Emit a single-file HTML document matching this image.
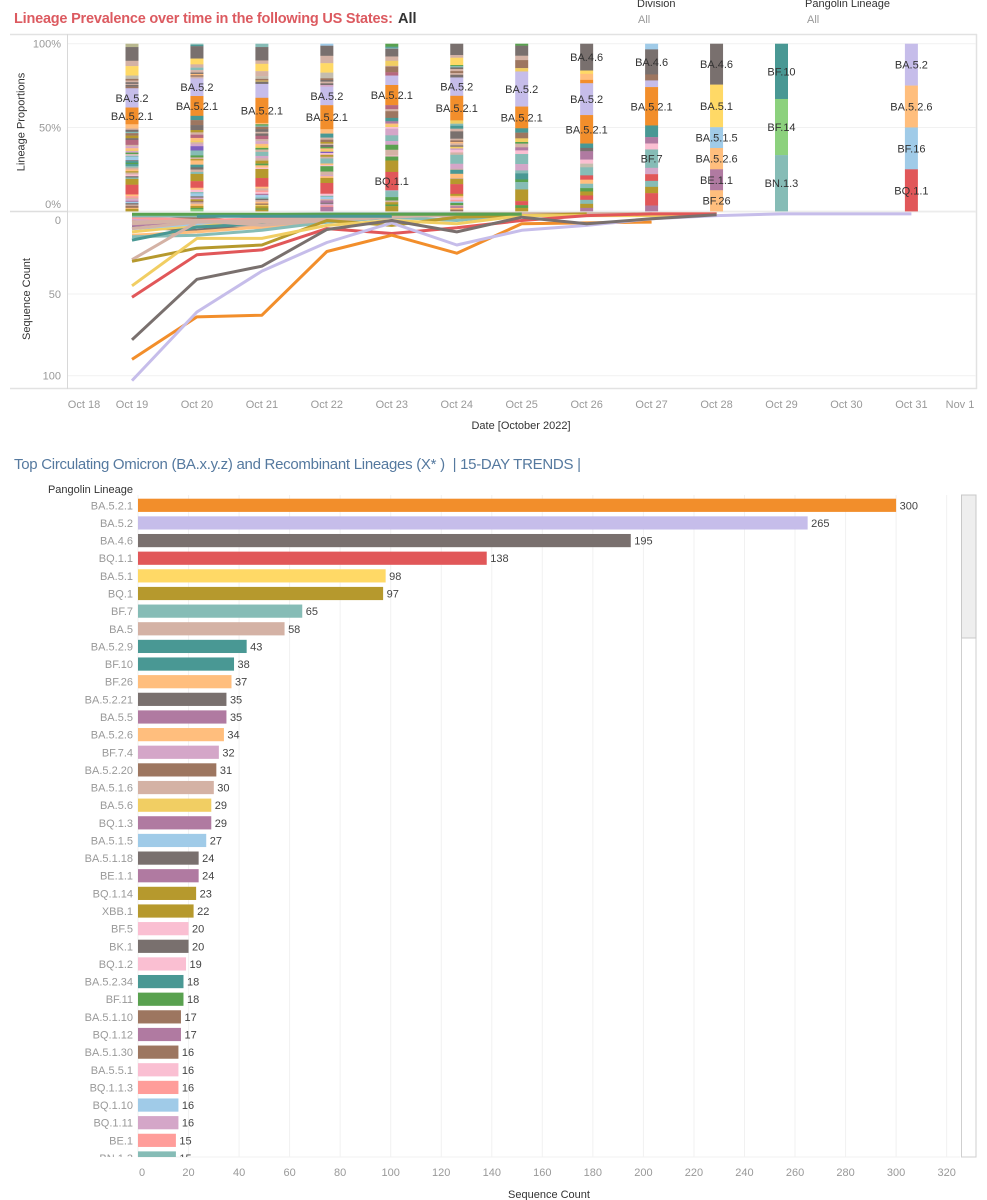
<!DOCTYPE html>
<html lang="en">
<head>
<meta charset="utf-8">
<title>Lineage Prevalence Dashboard</title>
<style>
html,body{margin:0;padding:0;background:#fff;width:987px;height:1200px;overflow:hidden}
svg{display:block}
text{font-family:"Liberation Sans",sans-serif}
.tick{font-size:11px;fill:#999}
.axt{font-size:11px;fill:#333}
</style>
</head>
<body>
<svg id="chart" width="987" height="1200" viewBox="0 0 987 1200" xmlns="http://www.w3.org/2000/svg">
  <defs><clipPath id="barClip"><rect x="0" y="495" width="960" height="662"></rect></clipPath></defs>
  <text x="14" y="23" font-size="14.5" font-weight="bold" fill="#dc5a60" textLength="379" lengthAdjust="spacing">Lineage Prevalence over time in the following US States:</text>
  <text x="398" y="23" font-size="14.5" font-weight="bold" fill="#333">All</text>
  <text x="637" y="7" class="axt">Division</text>
  <text x="638" y="23" class="tick">All</text>
  <text x="805" y="7" class="axt">Pangolin Lineage</text>
  <text x="807" y="23" class="tick">All</text>

  <g id="frame">
    <line x1="10" y1="34.5" x2="977" y2="34.5" stroke="#e2e2e2" stroke-width="1.5"></line>
    <line x1="10" y1="211.5" x2="977" y2="211.5" stroke="#dedede" stroke-width="1.5"></line>
    <line x1="10" y1="388.5" x2="977" y2="388.5" stroke="#e2e2e2" stroke-width="1.5"></line>
    <line x1="67.5" y1="34" x2="67.5" y2="389" stroke="#d8d8d8"></line>
    <line x1="976.5" y1="34" x2="976.5" y2="389" stroke="#e2e2e2" stroke-width="1.5"></line>
  </g>
  <g id="pctGrid"></g>
  <g id="countGrid"></g>
  <g id="stacks"></g>
  <g id="lines"></g>
  <g id="stackLabels"></g>
  <g id="dateAxis"></g>
  <text class="axt" transform="translate(24.5,122) rotate(-90)" text-anchor="middle">Lineage Proportions</text>
  <text class="axt" transform="translate(30,299) rotate(-90)" text-anchor="middle">Sequence Count</text>
  <text class="axt" x="521" y="429" text-anchor="middle">Date [October 2022]</text>

  <text x="14" y="469" font-size="15" fill="#55799f" textLength="567" lengthAdjust="spacing" xml:space="preserve">Top Circulating Omicron (BA.x.y.z) and Recombinant Lineages (X* )  | 15-DAY TRENDS |</text>
  <text class="axt" x="133" y="493" text-anchor="end">Pangolin Lineage</text>
  <g id="barGrid"></g>
  <g id="bars" clip-path="url(#barClip)"></g>
  <g id="barAxis"></g>
  <text class="axt" x="549" y="1198" text-anchor="middle">Sequence Count</text>
  <g>
    <rect x="961.5" y="495" width="14.5" height="662" fill="#fff" stroke="#cfcfcf"></rect>
    <rect x="961.5" y="495" width="14.5" height="143" fill="#eeeeee" stroke="#c8c8c8"></rect>
  </g>
</svg>
<script>
const palette = {O:'#f28e2b',L:'#c6bdea',K:'#79706e',R:'#e15759',Y:'#ffd966',V:'#b6992d',T:'#86bcb6',N:'#d4b2a5',D:'#499894',P:'#ffbe7d',U:'#b07aa1',I:'#d4a6c8',B:'#9d7660',S:'#a0cbe8',F:'#f1ce63',M:'#fabfd2',A:'#ff9d9a',G:'#59a14f',H:'#8cd17d',E:'#7f5fc0',J:'#b6687f',C:'#b9b88f',Q:'#c4bdae'};

const stackDates = [19,20,21,22,23,24,25,26,27,28,29,31];
const oct19Stack = [['C',2],['K',8.2],['N',3.2],['Y',5.6],['Q',2],['B',1],['N',1],['K',1],['N',.6],['K',1],['B',1],['L',11.5,'BA.5.2'],['O',10,'BA.5.2.1'],['P',2.5],['N',.8],['K',1.2],['T',.8],['B',1.5],['V',1.5],['K',1],['J',3],['N',.8],['I',1.2],['P',1],['F',.6],['I',1],['G',1],['M',.8],['T',.8],['S',2],['K',.5],['D',1],['G',.8],['D',1],['T',1],['N',1.2],['P',1],['V',.8],['N',1.2],['M',1],['K',.8],['T',.8],['V',3.5],['R',5.8],['P',1],['A',1],['N',.8],['I',1],['U',.6],['S',.8],['K',.8],['N',.8],['B',1.2],['P',.6],['V',1.4]];
const oct20Stack = [['T',.8],['D',.7],['K',7.5],['Y',3.5],['N',2],['T',1.5],['N',1.5],['K',.8],['P',.8],['B',.9],['N',1],['L',10.7,'BA.5.2'],['O',12,'BA.5.2.1'],['D',2.6],['B',3],['K',3],['V',1.4],['N',1.4],['J',2],['P',1.6],['F',1],['N',1],['I',1.4],['E',2.6],['T',3],['G',1.2],['N',1],['V',.8],['P',2.6],['D',1.6],['K',1.4],['N',1.4],['T',1.2],['V',4.4],['R',4],['P',1.2],['M',1.4],['T',.8],['S',1.8],['K',.8],['I',1],['V',1],['B',.8],['N',1],['P',1.2],['V',1.2],['G',.8],['H',1.2]];
const oct21Stack = [['T',2],['K',8],['N',2],['Y',4.4],['N',3],['Q',1.6],['B',1],['F',.6],['K',1.4],['L',8.3],['O',15,'BA.5.2.1'],['P',.8],['G',.8],['T',.7],['B',1.4],['K',1.6],['N',1],['K',1.4],['J',2],['N',1.2],['I',1.6],['P',1.2],['F',1.2],['G',1],['N',1.4],['T',2.4],['I',1.4],['N',1.4],['V',1.8],['G',1],['P',1.4],['M',.8],['V',5.4],['R',5.2],['P',1],['N',1.2],['A',1],['M',1],['U',.8],['S',1.4],['T',.8],['K',.8],['N',1],['P',1],['B',.8],['F',.8],['V',1.4],['G',.6],['V',1]];
const oct22Stack = [['S',1.2],['K',6],['N',4.4],['Y',5.6],['Q',3.4],['B',1],['K',1],['N',1],['K',1],['I',1],['L',11,'BA.5.2'],['O',14.3,'BA.5.2.1'],['P',2.6],['D',2.4],['N',1.2],['B',1.4],['V',1],['N',.8],['K',1.2],['G',.8],['P',1],['F',1],['E',.8],['M',1],['V',1.2],['N',1],['T',3],['P',1],['M',.6],['G',3.2],['N',2],['I',.8],['P',1],['V',3],['R',6.4],['M',1.2],['T',.8],['S',1.2],['N',.8],['U',1.4],['K',.6],['I',1],['A',.8],['U',2.6]];
const oct23Stack = [['G',1.8],['D',.6],['T',.6],['K',4.6],['N',2.6],['F',3],['N',.4],['B',3.4],['J',2],['L',5.6],['O',12,'BA.5.2.1'],['J',2.4],['N',1.2],['B',4],['D',2],['U',1.4],['P',1],['F',1],['M',1],['I',4],['T',3.4],['I',2.2],['G',3],['N',3.4],['M',.6],['G',2.4],['V',6.8],['R',11,'BQ.1.1'],['S',.4],['T',3.6],['G',2],['N',1],['V',1.4],['G',1],['V',3]];
const oct24Stack = [['K',6.8],['N',1.6],['Y',4.4],['G',.6],['T',.8],['K',1],['N',1.2],['B',1.2],['N',1],['K',1.6],['L',11,'BA.5.2'],['O',14.7,'BA.5.2.1'],['F',2],['T',1.2],['D',1.8],['N',1.6],['K',4.4],['N',1],['B',1],['P',.8],['N',1.2],['K',.8],['F',1],['I',1],['M',1.4],['N',1.4],['T',5.4],['I',3],['N',.6],['D',2.4],['P',2.6],['N',.4],['V',3.2],['R',5.8],['V',1.2],['P',1],['M',1.4],['A',1],['S',.8],['G',1.4],['N',.6],['U',1],['P',1],['B',1]];
const oct25Stack = [['G',1.2],['K',6],['N',2.6],['B',4.8],['F',2],['L',21,'BA.5.2'],['O',13,'BA.5.2.1'],['D',2.6],['B',3.4],['F',2.2],['G',1],['N',2.2],['U',1.8],['M',2.2],['T',6],['I',3.8],['T',1.8],['D',3.6],['G',1.6],['T',4.4],['V',7],['R',2.4],['G',1.6],['V',2]];
const oct26Stack = [['K',16,'BA.4.6'],['Y',2],['P',3.6],['O',2],['L',19,'BA.5.2'],['O',17,'BA.5.2.1'],['D',2.6],['K',2],['U',5],['M',2.4],['Q',2.2],['T',4.8],['R',2.6],['P',2.4],['T',2.6],['G',2],['V',2.4],['R',2.6],['T',2.4],['V',2.4],['U',2]];
const oct27Stack = [['S',3.4],['K',15,'BA.4.6'],['B',3.6],['L',4],['O',23,'BA.5.2.1'],['D',7],['U',3.8],['M',3.6],['T',11,'BF.7'],['I',3.8],['R',4],['T',3.6],['V',3.8],['R',7.4],['U',3.4]];
const oct28Stack = [['K',24.4,'BA.4.6'],['Y',25.4,'BA.5.1'],['S',12.4,'BA.5.1.5'],['P',12.7,'BA.5.2.6'],['U',12.5,'BE.1.1'],['P',12.5,'BF.26']];
const oct29Stack = [['D',33,'BF.10'],['H',33.5,'BF.14'],['T',33.5,'BN.1.3']];
const oct31Stack = [['L',25,'BA.5.2'],['P',25,'BA.5.2.6'],['S',25,'BF.16'],['R',25,'BQ.1.1']];
const allStacks = [oct19Stack,oct20Stack,oct21Stack,oct22Stack,oct23Stack,oct24Stack,oct25Stack,oct26Stack,oct27Stack,oct28Stack,oct29Stack,oct31Stack];

const lineDates = [19,20,21,22,23,24,25,26,27,28,29,31];
const lineBackA = [1.2,1.2,1.2,1.2,1.2,1.2,1.2,null,null,null,null,null];
const lineBackB = [9,11,7,3,2,2,1,null,null,null,null,null];
const lineBackC = [8,5,6,4,2,1,1,null,null,null,null,null];
const lineBackD = [5,4,6,2,1,1,1,null,null,null,null,null];
const lineBackE = [6,3,7,4,2,2,1,null,null,null,null,null];
const lineBackF = [7,5,10,6,3,1,1,null,null,null,null,null];
const lineBackG = [12,8,4,2,1,1,1,null,null,null,null,null];
const lineBackH = [4,6,4,3,1,1,null,null,null,null,null,null];
const lineBackI = [10,7,3,2,1,1,null,null,null,null,null,null];
const lineBackJ = [3,5,4,2,2,1,1,null,null,null,null,null];
const lineBackK = [6,5,8,5,3,1,null,null,null,null,null,null];
const lineBackL = [14,12,9,4,2,1,1,1,1,1,null,null];
const lineBackM = [15,14,11,6,3,5,1,1,1,null,null,null];
const lineBackN = [17,9,7,3.5,2,2,1,null,null,null,null,null];
const lineBackO = [10,6,6,5,2,2,1,1,2,1,null,null];
const lineBackP = [null,2.4,2.4,2.4,2.4,null,null,null,null,null,null,null];
const lineBackQ = [2.2,2.2,1.5,1,1,1,1,null,null,null,null,null];
const lineBA5 = [29,6,5,4,2,2,1,1,1,null,null,null];
const lineBQ1 = [30,22,20,5,8,3,2,1,null,null,null,null];
const lineBA51 = [45,16,16,8,5,7,2,2,2,1,null,null];
const lineBQ11 = [52,26,23,10,13,9.5,5,2,1,1,null,null];
const lineBA521 = [90,64,63,24,14,25,7,6.5,6,null,null,null];
const lineBA52 = [103,61,36,18.5,6.5,20,11,8,4,2,1,1];
const lineBA46 = [78,41,33,10.5,5,12,3,7,4,1.5,null,null];
const lineSeries = [
  ['K',lineBackB,'line-ba-5-2-21'],['U',lineBackC,'line-ba-5-5'],['P',lineBackD,'line-ba-5-2-6'],['B',lineBackE,'line-ba-5-2-20'],
  ['N',lineBackF,'line-ba-5-1-6'],['F',lineBackG,'line-ba-5-6'],['I',lineBackH,'line-bf-7-4'],['S',lineBackI,'line-ba-5-1-5'],
  ['A',lineBackJ,'line-be-1'],['P',lineBackL,'line-bf-26'],['T',lineBackM,'line-bf-7'],
  ['D',lineBackN,'line-ba-5-2-9'],['N',lineBackK,'line-ba-5-1-18'],['N',lineBackO,'line-bq-1-10'],['N',lineBA5,'line-ba-5'],['V',lineBQ1,'line-bq-1'],
  ['F',lineBA51,'line-ba-5-1'],['R',lineBQ11,'line-bq-1-1'],['O',lineBA521,'line-ba-5-2-1'],['L',lineBA52,'line-ba-5-2'],
  ['T',lineBackQ,'line-bn-1-3'],['G',lineBackA,'line-bq-1-14'],['D',lineBackP,'line-bf-10'],['K',lineBA46,'line-ba-4-6']
];

const dateTicks = [18,19,20,21,22,23,24,25,26,27,28,29,30,31,32];
const dateTickLabels = ['Oct 18','Oct 19','Oct 20','Oct 21','Oct 22','Oct 23','Oct 24','Oct 25','Oct 26','Oct 27','Oct 28','Oct 29','Oct 30','Oct 31','Nov 1'];
const pctTicks = [100,50,0];
const countTicks = [0,50,100];

const barLineages = ['BA.5.2.1','BA.5.2','BA.4.6','BQ.1.1','BA.5.1','BQ.1','BF.7','BA.5','BA.5.2.9','BF.10','BF.26','BA.5.2.21','BA.5.5','BA.5.2.6','BF.7.4','BA.5.2.20','BA.5.1.6','BA.5.6','BQ.1.3','BA.5.1.5','BA.5.1.18','BE.1.1','BQ.1.14','XBB.1','BF.5','BK.1','BQ.1.2','BA.5.2.34','BF.11','BA.5.1.10','BQ.1.12','BA.5.1.30','BA.5.5.1','BQ.1.1.3','BQ.1.10','BQ.1.11','BE.1','BN.1.3'];
const barCounts = [300,265,195,138,98,97,65,58,43,38,37,35,35,34,32,31,30,29,29,27,24,24,23,22,20,20,19,18,18,17,17,16,16,16,16,16,15,15];
const barColorKeys = ['O','L','K','R','Y','V','T','N','D','D','P','K','U','P','I','B','N','F','U','S','K','U','V','V','M','K','M','D','G','B','U','B','M','A','S','I','A','T'];
const barTicks = [0,20,40,60,80,100,120,140,160,180,200,220,240,260,280,300,320];

const NS = 'http://www.w3.org/2000/svg';
function mk(tag, attrs, parent, txt) {
  const e = document.createElementNS(NS, tag);
  for (const k in attrs) e.setAttribute(k, attrs[k]);
  if (txt !== undefined) e.textContent = txt;
  parent.appendChild(e);
  return e;
}
const $ = id => document.getElementById(id);
const xDate = d => 132 + 64.95 * (d - 19);
const yPct = p => 211.2 - 1.675 * p;
const yCount = v => 212.3 + 1.634 * v;
const xBar = v => 138 + 2.527 * v;
const yBar = i => 505.3 + 17.64 * i;

pctTicks.forEach(function (t) {
  const g = mk('line', {x1: 68, x2: 976, y1: yPct(t), y2: yPct(t), stroke: '#f1f1f1'}, $('pctGrid'));
  
  
  const lbl = mk('text', {x: 61, y: Math.min(yPct(t) + 4, 208), 'text-anchor': 'end', class: 'tick'}, $('pctGrid'), t + '%');
  
  
});
countTicks.forEach(function (t) {
  if (t > 0) {
    const g = mk('line', {x1: 68, x2: 976, y1: yCount(t), y2: yCount(t), stroke: '#f1f1f1'}, $('countGrid'));
    
    
  }
  const lbl = mk('text', {x: 61, y: Math.max(yCount(t) + 4, 224), 'text-anchor': 'end', class: 'tick'}, $('countGrid'), String(t));
  
  
});

allStacks.forEach(function (stack, si) {
  const total = stack.reduce((a, s) => a + s[1], 0);
  const cx = xDate(stackDates[si]);
  let cum = 100;
  stack.forEach(function (seg) {
    const pct = seg[1] / total * 100;
    const y0 = yPct(cum), y1 = yPct(cum - pct);
    const r = mk('rect', {x: cx - 6.5, y: y0, width: 13, height: y1 - y0 + 0.2, fill: palette[seg[0]]}, $('stacks'));
    
    
    if (seg[2]) {
      const t = mk('text', {x: cx, y: (y0 + y1) / 2 + 4, 'text-anchor': 'middle', 'font-size': 11, fill: '#333'}, $('stackLabels'), seg[2]);
      
      
    }
    cum -= pct;
  });
});

lineSeries.forEach(function (s) {
  const pts = [];
  s[1].forEach(function (v, i) {
    if (v !== null) pts.push(xDate(lineDates[i]).toFixed(1) + ',' + yCount(v).toFixed(1));
  });
  const p = mk('polyline', {points: pts.join(' '), fill: 'none', stroke: palette[s[0]], 'stroke-width': 3, 'stroke-linejoin': 'round'}, $('lines'));
  
  
});

dateTicks.forEach(function (d, i) {
  const x = Math.min(Math.max(xDate(d), 84), 960);
  const t = mk('text', {x: x, y: 408, 'text-anchor': 'middle', class: 'tick'}, $('dateAxis'), dateTickLabels[i]);
  
  
});

barTicks.forEach(function (v) {
  const g = mk('line', {x1: xBar(v), x2: xBar(v), y1: 495, y2: 1157, stroke: '#f1f1f1'}, $('barGrid'));
  
  
  const t = mk('text', {x: Math.max(xBar(v), 142), y: 1176, 'text-anchor': 'middle', class: 'tick'}, $('barAxis'), String(v));
  
  
});
const base = mk('line', {x1: 138, x2: 960, y1: 1157, y2: 1157, stroke: '#f1f1f1'}, $('barGrid'));



barLineages.forEach(function (name, i) {
  const y = yBar(i);
  const lbl = mk('text', {x: 133, y: y + 4, 'text-anchor': 'end', class: 'tick'}, $('bars'), name);
  
  
  const r = mk('rect', {x: 138, y: y - 6.6, width: xBar(barCounts[i]) - 138, height: 13.2, fill: palette[barColorKeys[i]]}, $('bars'));
  
  
  const val = mk('text', {x: xBar(barCounts[i]) + 3.5, y: y + 4, 'font-size': 11, fill: '#444'}, $('bars'), String(barCounts[i]));
  
  
});
</script>
</body>
</html>
